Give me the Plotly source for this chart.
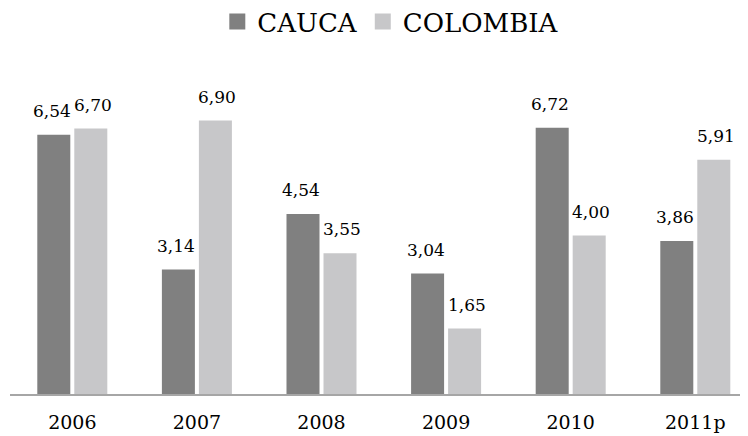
import plotly.graph_objects as go

years = ["2006", "2007", "2008", "2009", "2010", "2011p"]
cauca = [6.54, 3.14, 4.54, 3.04, 6.72, 3.86]
colombia = [6.70, 6.90, 3.55, 1.65, 4.00, 5.91]
labels_cauca = ["6,54", "3,14", "4,54", "3,04", "6,72", "3,86"]
labels_colombia = ["6,70", "6,90", "3,55", "1,65", "4,00", "5,91"]

C_DARK = "#808080"
C_LIGHT = "#c7c7c9"
FONT = "DejaVu Serif"

fig = go.Figure()
fig.add_trace(go.Bar(x=years, y=cauca, marker_color=C_DARK, showlegend=False,
                     marker_line_width=0, hoverinfo="skip"))
fig.add_trace(go.Bar(x=years, y=colombia, marker_color=C_LIGHT, showlegend=False,
                     marker_line_width=0, hoverinfo="skip"))
# legend proxies
fig.add_trace(go.Scatter(x=[None], y=[None], mode="markers", name="CAUCA",
                         marker=dict(symbol="square", size=16, color=C_DARK)))
fig.add_trace(go.Scatter(x=[None], y=[None], mode="markers", name="COLOMBIA",
                         marker=dict(symbol="square", size=16, color=C_LIGHT)))

for i, (v, t) in enumerate(zip(cauca, labels_cauca)):
    fig.add_annotation(x=i, y=v, text=t, showarrow=False, xshift=-20.5,
                       yanchor="bottom", yshift=12, font=dict(size=17, color="#000"))
for i, (v, t) in enumerate(zip(colombia, labels_colombia)):
    fig.add_annotation(x=i, y=v, text=t, showarrow=False, xshift=20.5,
                       yanchor="bottom", yshift=12, font=dict(size=17, color="#000"))

fig.update_layout(
    width=740, height=428,
    margin=dict(l=2, r=0, t=69, b=42, autoexpand=False),
    paper_bgcolor="white", plot_bgcolor="white",
    font=dict(family=FONT, color="#000"),
    barmode="group", bargap=0.406, bargroupgap=0.108,
    legend=dict(orientation="h", x=0.516, xanchor="center", y=0.968, yanchor="middle",
                yref="container", font=dict(size=26), itemsizing="trace"),
    xaxis=dict(type="category", range=[-0.5, 5.423], showline=True, linecolor="#a6a6a6",
               linewidth=2, ticks="", tickfont=dict(size=19), showgrid=False, zeroline=False,
               ticklabelstandoff=10),
    yaxis=dict(range=[0, 8], visible=False, showgrid=False, zeroline=False),
)
fig.write_html("out.html")
